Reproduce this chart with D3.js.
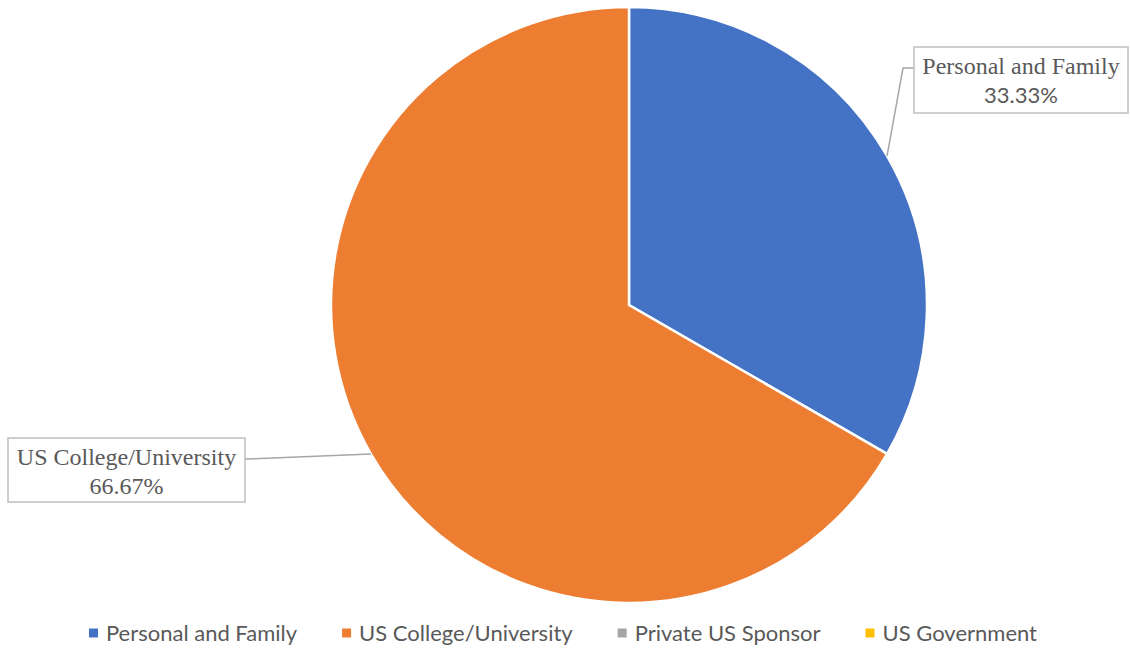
<!DOCTYPE html>
<html>
<head>
<meta charset="utf-8">
<script src="https://cdn.jsdelivr.net/npm/d3@7"></script>
<style>
  html, body { margin: 0; padding: 0; background: #fff; }
  svg { display: block; }
</style>
</head>
<body>
<svg id="chart" width="1130" height="652"></svg>
<script>
const categories = ["Personal and Family", "US College/University", "Private US Sponsor", "US Government"];
const values = [33.33, 66.67, 0, 0];
const percentLabels = ["33.33%", "66.67%", "0.00%", "0.00%"];
const colors = ["#4472C4", "#ED7D31", "#A5A5A5", "#FFC000"];

const W = 1130, H = 652;
const cx = 629, cy = 305, R = 298;
const svg = d3.select("#chart");

const data = categories.map((c, i) => ({ name: c, value: values[i], pct: percentLabels[i], color: colors[i] }));
const pie = d3.pie().sort(null).value(d => d.value).startAngle(0).endAngle(2 * Math.PI);
const arcs = pie(data);
const arc = d3.arc().innerRadius(0).outerRadius(R);

const g = svg.append("g").attr("transform", `translate(${cx},${cy})`);
g.selectAll("path.slice")
  .data(arcs.filter(a => a.value > 0))
  .enter().append("path")
  .attr("class", "slice")
  .attr("d", arc)
  .attr("fill", d => d.data.color)
  .attr("stroke", "#ffffff")
  .attr("stroke-width", 2.5)
  .attr("stroke-linejoin", "miter");

// Data label boxes (layout)
const boxLayout = {
  "Personal and Family": { x: 914, y: 47, w: 214, h: 66, side: "left", elbowX: 903 },
  "US College/University": { x: 8, y: 438, w: 237, h: 64, side: "right" }
};

arcs.filter(a => a.value > 0).forEach(a => {
  const b = boxLayout[a.data.name];
  const mid = (a.startAngle + a.endAngle) / 2;
  const px = cx + R * Math.sin(mid), py = cy - R * Math.cos(mid);
  const ly = b.y + b.h * 0.32;
  let pts;
  if (b.side === "left") {
    pts = [[px, py], [b.elbowX, ly], [b.x, ly]];
  } else {
    pts = [[px, py], [b.x + b.w, b.y + b.h * 0.33]];
  }
  svg.append("path")
    .attr("d", d3.line()(pts))
    .attr("fill", "none")
    .attr("stroke", "#A6A6A6")
    .attr("stroke-width", 1.5);
  svg.append("rect")
    .attr("x", b.x).attr("y", b.y).attr("width", b.w).attr("height", b.h)
    .attr("fill", "#ffffff")
    .attr("stroke", "#BFBFBF")
    .attr("stroke-width", 1.5);
  const tx = b.x + b.w / 2;
  svg.append("text")
    .attr("x", tx).attr("y", b.y + 27)
    .attr("text-anchor", "middle")
    .attr("font-family", "'Liberation Serif', 'DejaVu Serif', serif")
    .attr("font-size", 24)
    .attr("fill", "#595959")
    .text(a.data.name);
  const isSans = a.data.name === "Personal and Family";
  svg.append("text")
    .attr("x", tx).attr("y", b.y + 56)
    .attr("text-anchor", "middle")
    .attr("font-family", isSans ? "Lato, 'Liberation Sans', sans-serif" : "'Liberation Serif', serif")
    .attr("font-size", isSans ? 22 : 24)
    .attr("fill", "#595959")
    .text(a.data.pct);
});

// Legend
const legend = svg.append("g");
const legendFont = 22;
const sq = 9, sqGap = 8, itemGap = 45;
const items = legend.selectAll("g.item").data(data).enter().append("g").attr("class", "item");
items.append("rect").attr("width", sq).attr("height", sq).attr("y", -sq / 2).attr("fill", d => d.color);
items.append("text")
  .attr("x", sq + sqGap)
  .attr("dy", "0.35em")
  .attr("font-family", "Lato, 'Open Sans', sans-serif")
  .attr("font-size", legendFont)
  .attr("fill", "#595959")
  .text(d => d.name);
let widths = [];
items.each(function () { widths.push(sq + sqGap + d3.select(this).select("text").node().getComputedTextLength()); });
const total = d3.sum(widths) + itemGap * (widths.length - 1);
let x0 = 563 - total / 2;
items.attr("transform", (d, i) => {
  const x = x0 + d3.sum(widths.slice(0, i)) + itemGap * i;
  return `translate(${x},633)`;
});
</script>
</body>
</html>
